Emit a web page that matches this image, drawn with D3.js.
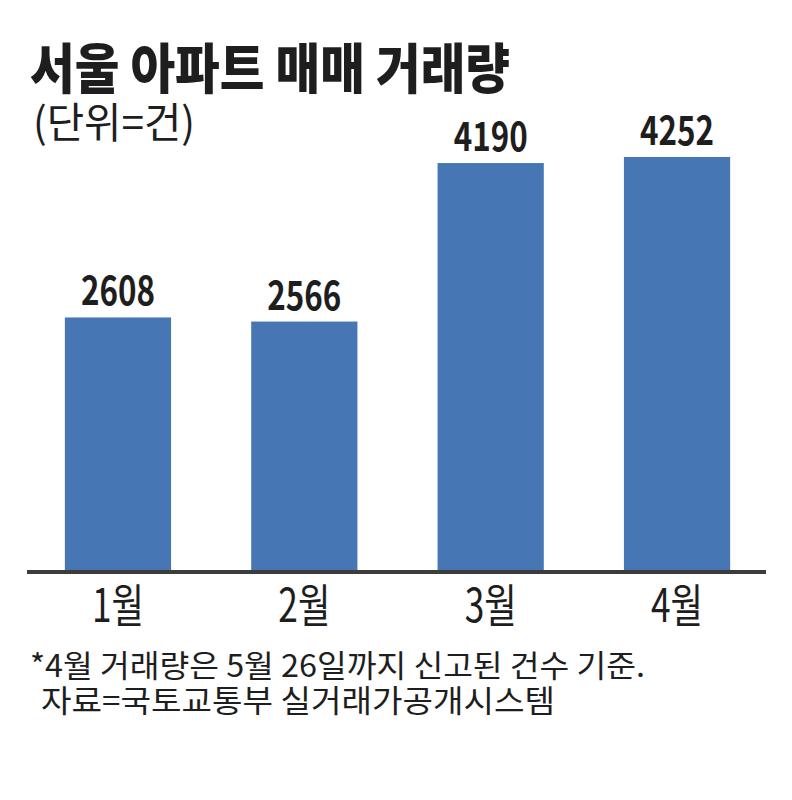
<!DOCTYPE html>
<html>
<head>
<meta charset="utf-8">
<script src="https://d3js.org/d3.v7.min.js"></script>
<style>
  body { margin: 0; background: #fff; }
  text { fill: #1e1e1e; }
</style>
</head>
<body>
<svg width="792" height="800"></svg>
<script>
const months = ['1월', '2월', '3월', '4월'];
const deals = [2608, 2566, 4190, 4252];
const title = '서울 아파트 매매 거래량';
const unitLabel = '(단위=건)';
const notes = ['*4월 거래량은 5월 26일까지 신고된 건수 기준.', '자료=국토교통부 실거래가공개시스템'];

const kr = "'Noto Sans CJK KR', 'Noto Sans', sans-serif";
const narrow = "'Liberation Sans Narrow', 'Noto Sans CJK KR', sans-serif";

const svg = d3.select('svg');
svg.append('rect').attr('width', 792).attr('height', 800).attr('fill', '#fff');

const baseY = 572;

const x = d3.scaleBand()
  .domain(months)
  .range([30, 765])
  .paddingInner(0.43)
  .paddingOuter(0.187);

const y = d3.scaleLinear()
  .domain([0, d3.max(deals)])
  .range([baseY, 157]);

// title + unit
svg.append('text')
  .attr('x', 30).attr('y', 89)
  .attr('font-family', kr).attr('font-weight', 900).attr('font-size', 54)
  .attr('textLength', 480).attr('lengthAdjust', 'spacingAndGlyphs')
  .text(title);

svg.append('text')
  .attr('x', 33).attr('y', 138)
  .attr('font-family', kr).attr('font-weight', 400).attr('font-size', 42)
  .attr('textLength', 162).attr('lengthAdjust', 'spacingAndGlyphs')
  .text(unitLabel);

// bars
const rows = months.map((m, i) => ({ m, v: deals[i] }));

svg.append('g').selectAll('rect')
  .data(rows)
  .join('rect')
  .attr('x', d => x(d.m))
  .attr('y', d => y(d.v))
  .attr('width', x.bandwidth())
  .attr('height', d => baseY - y(d.v))
  .attr('fill', '#4677b4');

svg.append('g').selectAll('text')
  .data(rows)
  .join('text')
  .attr('x', d => x(d.m) + x.bandwidth() / 2)
  .attr('y', d => y(d.v) - 12)
  .attr('text-anchor', 'middle')
  .attr('font-family', narrow).attr('font-weight', 700).attr('font-size', 40)
  .attr('textLength', 74).attr('lengthAdjust', 'spacingAndGlyphs')
  .text(d => d.v);

// baseline axis
const axis = svg.append('g')
  .attr('transform', `translate(0,${baseY})`)
  .call(d3.axisBottom(x).tickSize(0).tickPadding(12));
axis.select('.domain')
  .attr('d', 'M27,0H766')
  .attr('stroke', '#3c3c3c')
  .attr('stroke-width', 4);
axis.selectAll('.tick text')
  .attr('font-family', narrow).attr('font-size', 46).attr('fill', '#1e1e1e')
  .attr('dy', '0.82em')
  .attr('textLength', 52).attr('lengthAdjust', 'spacingAndGlyphs');

// footnotes
svg.append('g').selectAll('text')
  .data(notes)
  .join('text')
  .attr('x', (d, i) => i === 0 ? 30 : 41)
  .attr('y', (d, i) => 677 + i * 35)
  .attr('font-family', kr).attr('font-size', 31)
  .attr('textLength', (d, i) => i === 0 ? 615 : 514)
  .attr('lengthAdjust', 'spacingAndGlyphs')
  .text(d => d);
</script>
</body>
</html>
